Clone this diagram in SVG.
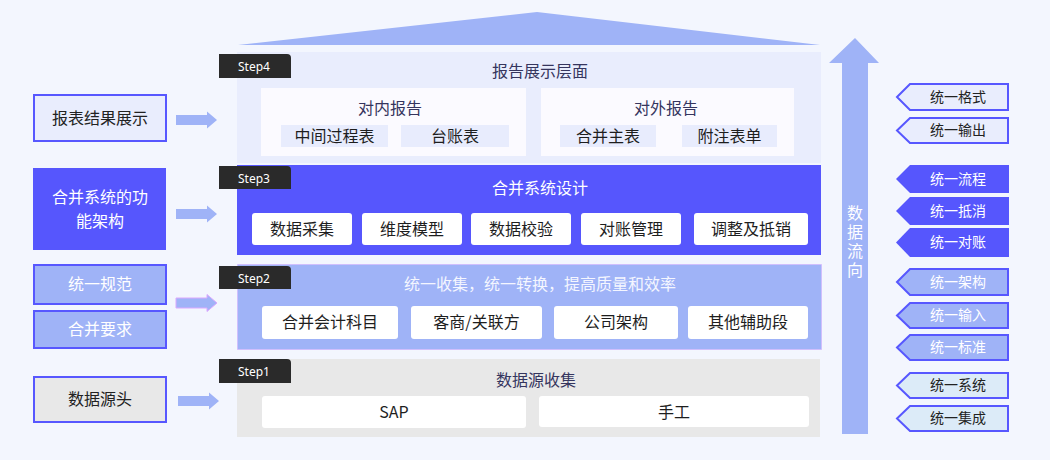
<svg xmlns="http://www.w3.org/2000/svg" width="1050" height="460" viewBox="0 0 1050 460">
<defs>
<style>
text{font-family:"Noto Sans CJK SC","Noto Sans",sans-serif;text-anchor:middle;}
.step{fill:#2a2a2a;}
.stept{fill:#fff;font-size:12px;font-family:"Noto Sans","Liberation Sans",sans-serif;text-anchor:start;}
.title{font-size:16px;fill:#35355e;}
.wbox{fill:#fff;}
.bt{font-size:16px;fill:#1e1e1e;}
.sub{fill:#e8ecfd;}
.st{font-size:16px;fill:#1e1e1e;}
.lb{stroke:#5757ff;stroke-width:2;}
.arr{fill:#9fb3f7;}
.tag{stroke:#5757ff;stroke-width:2;}
.tt{font-size:14px;}
</style>
</defs>
<rect width="1050" height="460" fill="#f3f6fe"/>
<polygon points="238,45 537,12 820,45" fill="#9fb3f7"/>

<g id="step4">
<rect x="237" y="52" width="584" height="111" fill="#e9edfd"/>
<path class="step" d="M219,54 H287 Q291,54 291,58 V78 H219 Z"/>
<text class="stept" x="238" y="71">Step4</text>
<text class="title" x="540" y="77">报告展示层面</text>
<rect x="261" y="88" width="265" height="68" fill="#fbfaff"/>
<text class="st" x="390" y="114" style="fill:#35355e">对内报告</text>
<rect class="sub" x="281" y="125" width="107" height="22"/>
<text class="st" x="334.5" y="142">中间过程表</text>
<rect class="sub" x="401" y="125" width="108" height="22"/>
<text class="st" x="455" y="142">台账表</text>
<rect x="541" y="88" width="253" height="68" fill="#fbfaff"/>
<text class="st" x="666" y="114" style="fill:#35355e">对外报告</text>
<rect class="sub" x="560" y="125" width="96" height="22"/>
<text class="st" x="608" y="142">合并主表</text>
<rect class="sub" x="682" y="125" width="95" height="22"/>
<text class="st" x="729.5" y="142">附注表单</text>
</g>

<g id="step3">
<rect x="237" y="165" width="584" height="90" fill="#5656fd"/>
<path class="step" d="M219,166 H287 Q291,166 291,170 V189 H219 Z"/>
<text class="stept" x="238" y="183">Step3</text>
<text class="title" x="540" y="194" style="fill:#fff">合并系统设计</text>
<rect class="wbox" x="252" y="213" width="100" height="32" rx="3"/>
<text class="bt" x="302" y="235">数据采集</text>
<rect class="wbox" x="362" y="213" width="100" height="32" rx="3"/>
<text class="bt" x="412" y="235">维度模型</text>
<rect class="wbox" x="471" y="213" width="100" height="32" rx="3"/>
<text class="bt" x="521" y="235">数据校验</text>
<rect class="wbox" x="581" y="213" width="100" height="32" rx="3"/>
<text class="bt" x="631" y="235">对账管理</text>
<rect class="wbox" x="694" y="213" width="114" height="32" rx="3"/>
<text class="bt" x="751" y="235">调整及抵销</text>
</g>

<g id="step2">
<rect x="237.5" y="264.5" width="584" height="85" fill="#9fb3f7" stroke="#d6a8ff" stroke-width="1" stroke-dasharray="1,1"/>
<path class="step" d="M219,266 H287 Q291,266 291,270 V289 H219 Z"/>
<text class="stept" x="238" y="283">Step2</text>
<text class="title" x="540" y="290" style="fill:#f4f6ff">统一收集，统一转换，提高质量和效率</text>
<rect class="wbox" x="262" y="306" width="136" height="33" rx="3"/>
<text class="bt" x="330" y="328">合并会计科目</text>
<rect class="wbox" x="411" y="306" width="131" height="33" rx="3"/>
<text class="bt" x="476.5" y="328">客商/关联方</text>
<rect class="wbox" x="554" y="306" width="124" height="33" rx="3"/>
<text class="bt" x="616" y="328">公司架构</text>
<rect class="wbox" x="688" y="306" width="120" height="33" rx="3"/>
<text class="bt" x="748" y="328">其他辅助段</text>
</g>

<g id="step1">
<rect x="237" y="359" width="583" height="78" fill="#e8e8e8"/>
<path class="step" d="M219,359 H287 Q291,359 291,363 V383 H219 Z"/>
<text class="stept" x="238" y="376">Step1</text>
<text class="title" x="536" y="386">数据源收集</text>
<rect class="wbox" x="262" y="396" width="264" height="32" rx="3"/>
<text class="bt" x="394" y="418">SAP</text>
<rect class="wbox" x="539" y="396" width="270" height="31" rx="3"/>
<text class="bt" x="674" y="418">手工</text>
</g>

<g id="left-report">
<rect class="lb" x="34" y="95" width="132" height="46" fill="#e9edfd"/>
<text class="bt" x="100" y="124" style="fill:#222">报表结果展示</text>
</g>
<g id="left-arch">
<rect x="33" y="168" width="133" height="82" fill="#5656fd"/>
<text class="bt" x="100" y="203" style="fill:#fff">合并系统的功</text>
<text class="bt" x="100" y="227" style="fill:#fff">能架构</text>
</g>
<g id="left-norm">
<rect class="lb" x="34" y="265" width="132" height="39" fill="#9fb3f7"/>
<text class="bt" x="100" y="290" style="fill:#fff">统一规范</text>
</g>
<g id="left-req">
<rect class="lb" x="34" y="311" width="132" height="37" fill="#9fb3f7"/>
<text class="bt" x="100" y="335" style="fill:#fff">合并要求</text>
</g>
<g id="left-source">
<rect class="lb" x="34" y="377" width="132" height="45" fill="#e8e8e8"/>
<text class="bt" x="100" y="405" style="fill:#222">数据源头</text>
</g>

<g id="connectors">
<polygon class="arr" points="176,115 207,115 207,111.5 217,120 207,128.5 207,125 176,125"/>
<polygon class="arr" points="176,209 207,209 207,205.5 217,214 207,222.5 207,219 176,219"/>
<polygon class="arr" points="176,298 207,298 207,294.5 217,303 207,311.5 207,308 176,308" stroke="#dba8ff" stroke-width="1"/>
<polygon class="arr" points="178,396 209,396 209,392.5 219,401 209,409.5 209,406 178,406"/>
</g>

<g id="flow-arrow">
<polygon points="855,38 879,63 868,63 868,434 842,434 842,63 829,63" fill="#9fb3f7"/>
<text x="855" y="205" style="font-size:16px;fill:#fff;writing-mode:vertical-rl;text-anchor:start;letter-spacing:3px">数据流向</text>
</g>

<g id="tag-format">
<polygon class="tag" points="897,97 910,84 1008,84 1008,110 910,110" fill="#e9edfd"/>
<text class="tt" x="958" y="102" fill="#222">统一格式</text>
</g>
<g id="tag-output">
<polygon class="tag" points="897,130.5 910,118 1008,118 1008,143 910,143" fill="#e9edfd"/>
<text class="tt" x="958" y="135" fill="#222">统一输出</text>
</g>
<g id="tag-process">
<polygon points="896,179 910,165 1009,165 1009,193 910,193" fill="#5656fd"/>
<text class="tt" x="958" y="184" fill="#fff">统一流程</text>
</g>
<g id="tag-offset">
<polygon points="896,211 910,197 1009,197 1009,225 910,225" fill="#5656fd"/>
<text class="tt" x="958" y="216" fill="#fff">统一抵消</text>
</g>
<g id="tag-recon">
<polygon points="896,242.5 910,228 1009,228 1009,257 910,257" fill="#5656fd"/>
<text class="tt" x="958" y="247" fill="#fff">统一对账</text>
</g>
<g id="tag-arch">
<polygon class="tag" points="897,282 910,269 1008,269 1008,295 910,295" fill="#9fb3f7"/>
<text class="tt" x="958" y="287" fill="#fff">统一架构</text>
</g>
<g id="tag-input">
<polygon class="tag" points="897,315.5 910,303 1008,303 1008,328 910,328" fill="#9fb3f7"/>
<text class="tt" x="958" y="320" fill="#fff">统一输入</text>
</g>
<g id="tag-standard">
<polygon class="tag" points="897,347.5 910,335 1008,335 1008,360 910,360" fill="#9fb3f7"/>
<text class="tt" x="958" y="352" fill="#fff">统一标准</text>
</g>
<g id="tag-system">
<polygon class="tag" points="897,385.5 910,373 1008,373 1008,398 910,398" fill="#dcebf8"/>
<text class="tt" x="958" y="390" fill="#222">统一系统</text>
</g>
<g id="tag-integration">
<polygon class="tag" points="897,418.5 910,406 1008,406 1008,431 910,431" fill="#dcebf8"/>
<text class="tt" x="958" y="423" fill="#222">统一集成</text>
</g>
</svg>
